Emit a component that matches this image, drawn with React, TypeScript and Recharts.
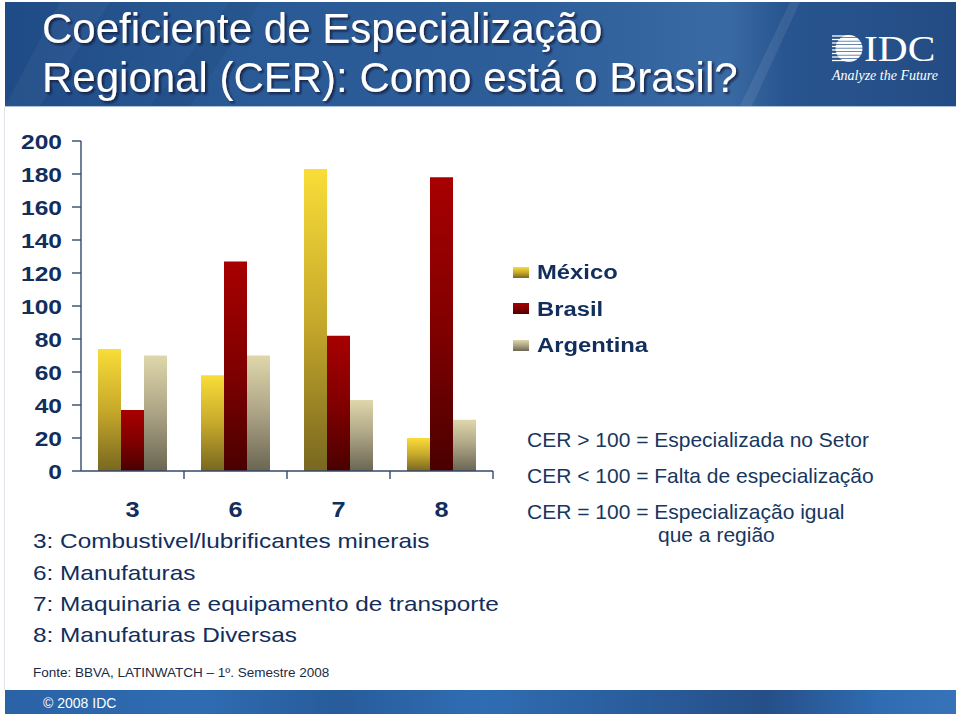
import React from 'react';
import { BarChart, Bar, XAxis, YAxis, Legend } from 'recharts';

const categories = ['3', '6', '7', '8'];
const mexico = [74, 58, 183, 20];
const brasil = [37, 127, 82, 178];
const argentina = [70, 70, 43, 31];
const yTicks = [0, 20, 40, 60, 80, 100, 120, 140, 160, 180, 200];
const seriesNames = ['México', 'Brasil', 'Argentina'];
const titleLines = ['Coeficiente de Especialização', 'Regional (CER): Como está o Brasil?'];
const sectorLabels = [
  '3: Combustivel/lubrificantes minerais',
  '6: Manufaturas',
  '7: Maquinaria e equipamento de transporte',
  '8: Manufaturas Diversas',
];
const cerNotes = [
  'CER > 100 = Especializada no Setor',
  'CER < 100 = Falta de especialização',
  'CER = 100 = Especialização igual',
  'que a região',
];
const sourceText = 'Fonte: BBVA, LATINWATCH – 1º. Semestre 2008';
const footerText = '© 2008 IDC';

const data = categories.map((c, i) => ({
  cat: c,
  mexico: mexico[i],
  brasil: brasil[i],
  argentina: argentina[i],
}));

const NAVY = '#112e5c';
const AXIS = '#34496a';
const FONT = '"Liberation Sans", Arial, Helvetica, sans-serif';
const SERIF = '"Liberation Serif", "Times New Roman", serif';

function YTick(props: any) {
  const { x, y, payload } = props;
  return (
    <text
      transform={`translate(${x},${y}) scale(1.17,1)`}
      textAnchor="end"
      dy="0.36em"
      fontFamily={FONT}
      fontWeight="bold"
      fontSize={21}
      fill={NAVY}
    >
      {payload.value}
    </text>
  );
}

function XTick(props: any) {
  const { x, y, payload } = props;
  const off = payload && typeof payload.offset === 'number' ? payload.offset : 0;
  return (
    <g>
      <line x1={x + off} y1={y - 8} x2={x + off} y2={y} stroke={AXIS} strokeWidth={1.4} />
      <text
        transform={`translate(${x},${y + 38}) scale(1.15,1)`}
        textAnchor="middle"
        fontFamily={FONT}
        fontWeight="bold"
        fontSize={22}
        fill={NAVY}
      >
        {payload.value}
      </text>
    </g>
  );
}

function LegendContent(props: any) {
  const payload = [...(props.payload || [])].sort(
    (a: any, b: any) => seriesNames.indexOf(a.value) - seriesNames.indexOf(b.value)
  );
  return (
    <div style={{ fontFamily: FONT }}>
      {payload.map((entry: any) => (
        <div key={entry.value} style={{ height: 36.5, display: 'flex', alignItems: 'center' }}>
          <svg width={16} height={11} style={{ marginRight: 8, display: 'block' }}>
            <rect width={16} height={11} fill={entry.color} />
          </svg>
          <span
            style={{
              fontSize: 20,
              fontWeight: 'bold',
              color: NAVY,
              display: 'inline-block',
              transform: 'scaleX(1.19)',
              transformOrigin: 'left center',
              whiteSpace: 'nowrap',
              lineHeight: '20px',
            }}
          >
            {entry.value}
          </span>
        </div>
      ))}
    </div>
  );
}

function Background() {
  const stripeYs = [36, 39.5, 43, 46.5, 50, 53.5, 57, 60.5];
  return (
    <svg width={960} height={716} style={{ position: 'absolute', left: 0, top: 0 }}>
      <defs>
        <linearGradient id="hdr" x1="0" y1="0" x2="1" y2="0">
          <stop offset="0" stopColor="#1f4b86" />
          <stop offset="0.25" stopColor="#2a5a95" />
          <stop offset="0.55" stopColor="#2e5e99" />
          <stop offset="0.76" stopColor="#3a6aa3" />
          <stop offset="0.82" stopColor="#28558f" />
          <stop offset="1" stopColor="#244c84" />
        </linearGradient>
        <linearGradient id="ftr" x1="0" y1="0" x2="1" y2="0">
          <stop offset="0" stopColor="#2a62a6" />
          <stop offset="0.2" stopColor="#2f6cb2" />
          <stop offset="0.35" stopColor="#285c9b" />
          <stop offset="0.5" stopColor="#2f6db3" />
          <stop offset="0.66" stopColor="#2a5d9c" />
          <stop offset="0.8" stopColor="#264f88" />
          <stop offset="0.92" stopColor="#2f6cb2" />
          <stop offset="1" stopColor="#3673b8" />
        </linearGradient>
        <clipPath id="logoCircle">
          <circle cx={849} cy={48.5} r={13.5} />
        </clipPath>
        <filter id="tshadow" x="-5%" y="-20%" width="110%" height="150%">
          <feDropShadow dx="2" dy="2" stdDeviation="1.2" floodColor="#08182f" floodOpacity="0.75" />
        </filter>
      </defs>
      <rect x={0} y={0} width={960} height={716} fill="#ffffff" />
      <rect x={5} y={2} width={951} height={104} fill="url(#hdr)" />
      <polygon points="5,106 60,2 110,2 40,106" fill="#ffffff" opacity={0.04} />
      <polygon points="150,106 230,2 260,2 190,106" fill="#000000" opacity={0.05} />
      <polygon points="740,106 790,2 800,2 752,106" fill="#ffffff" opacity={0.08} />
      <line x1={5} y1={106.5} x2={956} y2={106.5} stroke="#a9c3de" strokeWidth={1} />
      <line x1={4.5} y1={107} x2={4.5} y2={690} stroke="#dfe4eb" strokeWidth={1} />
      <rect x={5} y={690} width={951} height={24} fill="url(#ftr)" />

      <g filter="url(#tshadow)">
        {titleLines.map((t, i) => (
          <text key={t} x={42} y={43 + i * 49} fontFamily={FONT} fontSize={42} fill="#ffffff">
            {t}
          </text>
        ))}
      </g>

      {stripeYs.map((sy) => (
        <line key={'l' + sy} x1={832} y1={sy} x2={849} y2={sy} stroke="#ffffff" strokeWidth={1.3} />
      ))}
      <g clipPath="url(#logoCircle)">
        {stripeYs.map((sy) => (
          <rect key={'r' + sy} x={834} y={sy - 1.5} width={30} height={2.8} fill="#ffffff" />
        ))}
      </g>
      <text
        transform="translate(864,61) scale(1.15,1)"
        fontFamily={SERIF}
        fontSize={36}
        fill="#ffffff"
      >
        IDC
      </text>
      <text x={832} y={80} fontFamily={SERIF} fontStyle="italic" fontSize={14} fill="#ffffff">
        Analyze the Future
      </text>

      {sectorLabels.map((t, i) => (
        <text
          key={t}
          transform={`translate(33,${[548, 580, 611, 642][i]}) scale(1.16,1)`}
          fontFamily={FONT}
          fontSize={21}
          fill={NAVY}
        >
          {t}
        </text>
      ))}

      {cerNotes.map((t, i) => (
        <text
          key={t}
          x={i === 3 ? 658 : 527}
          y={[447, 483, 519, 542][i]}
          fontFamily={FONT}
          fontSize={21}
          fill="#17375e"
        >
          {t}
        </text>
      ))}

      <text x={33} y={677} fontFamily={FONT} fontSize={13.5} fill="#1b2a44">
        {sourceText}
      </text>
      <text x={43} y={708} fontFamily={FONT} fontSize={14} fill="#ffffff">
        {footerText}
      </text>
    </svg>
  );
}

export default function App() {
  return (
    <div
      style={{
        position: 'absolute',
        left: 0,
        top: 0,
        width: 960,
        height: 716,
        overflow: 'hidden',
        background: '#ffffff',
      }}
    >
      <Background />
      <div style={{ position: 'absolute', left: 0, top: 0 }}>
        <BarChart
          width={960}
          height={531}
          data={data}
          margin={{ top: 141, right: 467, left: 0, bottom: 0 }}
          barCategoryGap={17}
          barGap={0}
        >
          <defs>
            <linearGradient id="gMex" x1="0" y1="0" x2="0" y2="1">
              <stop offset="0" stopColor="#f9dd38" />
              <stop offset="0.5" stopColor="#c7a92b" />
              <stop offset="1" stopColor="#786720" />
            </linearGradient>
            <linearGradient id="gBra" x1="0" y1="0" x2="0" y2="1">
              <stop offset="0" stopColor="#a80000" />
              <stop offset="0.5" stopColor="#820000" />
              <stop offset="1" stopColor="#4a0000" />
            </linearGradient>
            <linearGradient id="gArg" x1="0" y1="0" x2="0" y2="1">
              <stop offset="0" stopColor="#dfd7ab" />
              <stop offset="0.5" stopColor="#aca385" />
              <stop offset="1" stopColor="#6a6652" />
            </linearGradient>
          </defs>
          <XAxis
            dataKey="cat"
            height={60}
            axisLine={{ stroke: AXIS, strokeWidth: 1.4 }}
            tickLine={false}
            tickSize={8}
            tickMargin={0}
            tick={<XTick />}
            interval={0}
          />
          <YAxis
            width={81}
            domain={[0, 200]}
            ticks={yTicks}
            interval={0}
            axisLine={{ stroke: AXIS, strokeWidth: 1.4 }}
            tickLine={{ stroke: AXIS, strokeWidth: 1.4 }}
            tickSize={9}
            tickMargin={10}
            tick={<YTick />}
          />
          <Legend
            layout="vertical"
            align="center"
            verticalAlign="middle"
            content={<LegendContent />}
            wrapperStyle={{ left: 513, top: 254, width: 200 }}
          />
          <Bar dataKey="mexico" name={seriesNames[0]} fill="url(#gMex)" isAnimationActive={false} />
          <Bar dataKey="brasil" name={seriesNames[1]} fill="url(#gBra)" isAnimationActive={false} />
          <Bar dataKey="argentina" name={seriesNames[2]} fill="url(#gArg)" isAnimationActive={false} />
        </BarChart>
      </div>
    </div>
  );
}
